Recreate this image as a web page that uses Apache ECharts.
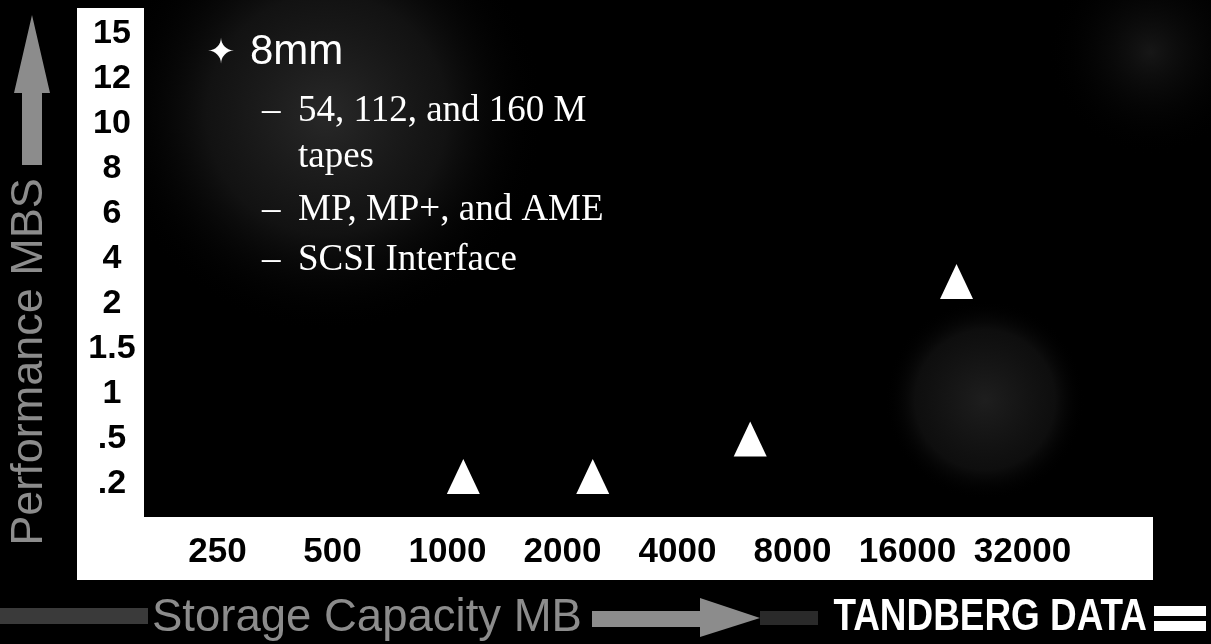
<!DOCTYPE html>
<html>
<head>
<meta charset="utf-8">
<script src="https://cdn.jsdelivr.net/npm/echarts@6/dist/echarts.min.js"></script>
<style>
  html, body { margin: 0; padding: 0; background: #000; }
  #chart { width: 1211px; height: 644px; }
</style>
</head>
<body>
<div id="chart"></div>
<script>
// ---- data ----
const xTickValues = [250, 500, 1000, 2000, 4000, 8000, 16000, 32000];
const xTickLabels = ['250', '500', '1000', '2000', '4000', '8000', '16000', '32000'];
const yTickValues = [0.2, 0.5, 1, 1.5, 2, 4, 6, 8, 10, 12, 15];
const yTickLabels = ['.2', '.5', '1', '1.5', '2', '4', '6', '8', '10', '12', '15'];
const capacityMB = [1100, 2400, 6200, 21500];
const performanceMBs = [0.25, 0.25, 0.5, 3];

const titleText = '8mm';
const bulletLines = ['54, 112, and 160 M', 'tapes', 'MP, MP+, and AME', 'SCSI Interface'];
const bulletDash = [true, false, true, true];
const yAxisTitle = 'Performance MBS';
const xAxisTitle = 'Storage Capacity MB';
const brandText = 'TANDBERG DATA';

// scale helpers: x is log2 of capacity relative to first tick; y is piecewise on the printed ticks
function xScale(v) { return Math.log2(v / xTickValues[0]); }
function yScale(v) {
  for (let i = 0; i < yTickValues.length - 1; i++) {
    const a = yTickValues[i], b = yTickValues[i + 1];
    if (v <= b) return i + (v - a) / (b - a);
  }
  return yTickValues.length - 1;
}
const points = capacityMB.map((c, i) => [xScale(c), yScale(performanceMBs[i])]);

const chart = echarts.init(document.getElementById('chart'), null, { renderer: 'canvas' });
const GRAY = '#8c8c8c';
const sans = 'Liberation Sans, Arial, Helvetica, sans-serif';
const serif = 'Liberation Serif, Times New Roman, serif';

const bulletY = [109, 155, 208, 258];
const textEls = [];
textEls.push({ type: 'text', z: 10, style: { text: '\u2726', x: 221, y: 54, fill: '#fff', font: '34px DejaVu Sans', align: 'center', verticalAlign: 'middle' } });
textEls.push({ type: 'text', z: 10, style: { text: titleText, x: 250, y: 52, fill: '#fff', font: '42px ' + sans, align: 'left', verticalAlign: 'middle' } });
bulletLines.forEach((t, i) => {
  if (bulletDash[i]) {
    textEls.push({ type: 'text', z: 10, style: { text: '\u2013', x: 262, y: bulletY[i] + 2, fill: '#fff', font: '37px ' + serif, align: 'left', verticalAlign: 'middle' } });
  }
  textEls.push({ type: 'text', z: 10, style: { text: t, x: 298, y: bulletY[i] + 2, fill: '#fff', font: '37px ' + serif, align: 'left', verticalAlign: 'middle' } });
});

const option = {
  backgroundColor: '#000',
  animation: false,
  grid: { left: 217.5, top: 34, width: 805, height: 450 },
  xAxis: {
    type: 'value', min: 0, max: xTickValues.length - 1, interval: 1, z: 5,
    axisLine: { show: false }, axisTick: { show: false }, splitLine: { show: false },
    axisLabel: {
      formatter: v => xTickLabels[Math.round(v)] || '',
      margin: 68, verticalAlign: 'middle', fontSize: 35, fontWeight: 'bold',
      color: '#000', fontFamily: sans
    }
  },
  yAxis: {
    type: 'value', min: 0, max: yTickValues.length - 1, interval: 1, z: 5,
    axisLine: { show: false }, axisTick: { show: false }, splitLine: { show: false },
    axisLabel: {
      formatter: v => yTickLabels[Math.round(v)] || '',
      margin: 105.5, align: 'center', fontSize: 34, fontWeight: 'bold',
      color: '#000', fontFamily: sans
    }
  },
  series: [{
    type: 'scatter', z: 6, data: points, symbol: 'triangle', symbolSize: [33, 35],
    itemStyle: { color: '#fff', opacity: 1 }
  }],
  graphic: { elements: [
    // faint dithered texture areas of the slide
    { type: 'rect', z: 0, shape: { x: 0, y: 0, width: 1211, height: 520 },
      style: { fill: { type: 'radial', x: 0.27, y: 0.22, r: 0.42, colorStops: [
        { offset: 0, color: 'rgba(62,62,62,0.65)' }, { offset: 0.55, color: 'rgba(40,40,40,0.45)' },
        { offset: 1, color: 'rgba(0,0,0,0)' } ] } } },
    { type: 'rect', z: 0, shape: { x: 0, y: 0, width: 1211, height: 520 },
      style: { fill: { type: 'radial', x: 0.95, y: 0.1, r: 0.2, colorStops: [
        { offset: 0, color: 'rgba(45,45,45,0.5)' }, { offset: 1, color: 'rgba(0,0,0,0)' } ] } } },
    { type: 'ellipse', z: 0, shape: { cx: 985, cy: 400, rx: 150, ry: 100 },
      style: { fill: { type: 'radial', x: 0.5, y: 0.5, r: 0.5, colorStops: [
        { offset: 0, color: 'rgba(50,50,50,0.6)' }, { offset: 0.7, color: 'rgba(35,35,35,0.4)' },
        { offset: 1, color: 'rgba(0,0,0,0)' } ] } } },
    // white L-shaped axis bands
    { type: 'rect', z: 1, shape: { x: 77, y: 8, width: 67, height: 572 }, style: { fill: '#fff' } },
    { type: 'rect', z: 1, shape: { x: 77, y: 517, width: 1076, height: 63 }, style: { fill: '#fff' } },
    // vertical axis arrow and title
    { type: 'polygon', z: 1, shape: { points: [[32, 15], [50, 93], [42, 93], [42, 165], [22, 165], [22, 93], [14, 93]] }, style: { fill: GRAY } },
    { type: 'text', z: 1, rotation: Math.PI / 2, x: 30, y: 362,
      style: { text: yAxisTitle, x: 0, y: 0, fill: GRAY, font: '45px ' + sans, align: 'center', verticalAlign: 'middle' } },
    // horizontal axis arrow and title
    { type: 'rect', z: 1, shape: { x: 0, y: 608, width: 148, height: 16 }, style: { fill: '#3a3a3a' } },
    { type: 'rect', z: 1, shape: { x: 592, y: 611, width: 110, height: 16 }, style: { fill: GRAY } },
    { type: 'polygon', z: 1, shape: { points: [[700, 598], [760, 618], [700, 637]] }, style: { fill: GRAY } },
    { type: 'rect', z: 1, shape: { x: 760, y: 611, width: 58, height: 14 }, style: { fill: '#2a2a2a' } },
    { type: 'text', z: 1, style: { text: xAxisTitle, x: 152, y: 618, fill: GRAY, font: '45.5px ' + sans, align: 'left', verticalAlign: 'middle' } },
    // brand
    { type: 'text', z: 1, x: 1147, y: 618, scaleX: 0.82,
      style: { text: brandText, x: 0, y: 0, fill: '#fff', font: 'bold 45px ' + sans, align: 'right', verticalAlign: 'middle' } },
    { type: 'rect', z: 1, shape: { x: 1154, y: 606, width: 52, height: 10 }, style: { fill: '#fff' } },
    { type: 'rect', z: 1, shape: { x: 1154, y: 621, width: 52, height: 10 }, style: { fill: '#fff' } }
  ].concat(textEls) }
};
chart.setOption(option);
</script>
</body>
</html>
